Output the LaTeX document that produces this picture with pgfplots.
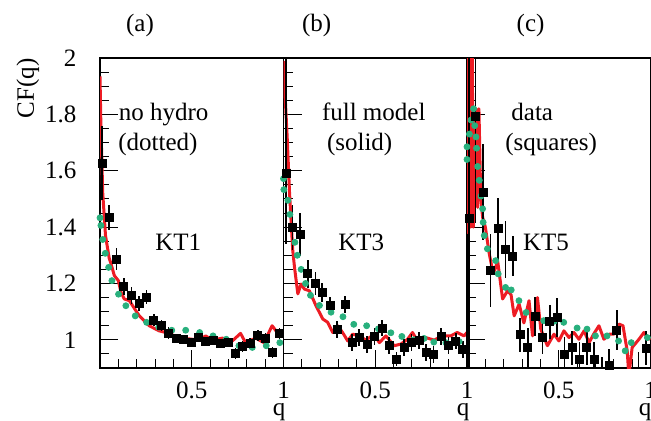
\documentclass[border=0pt]{standalone}
\usepackage{fontspec}
\setmainfont{Liberation Serif}
\usepackage{pgfplots}
\pgfplotsset{compat=1.18}
\definecolor{rootred}{RGB}{237,28,36}
\definecolor{rootgreen}{RGB}{40,176,125}
\newcommand{\lab}{\fontsize{12.5}{15}\selectfont}
\pgfplotsset{
  panel/.style={
    scale only axis, width=91.75pt, height=155pt,
    anchor=south west,
    xmin=0, xmax=1, ymin=0.9, ymax=2,
    axis line style={line width=0.6pt},
    tick style={black, line width=0.5pt},
    major tick length=9pt, minor tick length=4.5pt,
    tick pos=left, tick align=inside,
    xtick={0,0.5,1}, xticklabels={,0.5,1},
    minor xtick={0.1,0.2,0.3,0.4,0.6,0.7,0.8,0.9},
    ytick={1,1.2,1.4,1.6,1.8,2},
    minor ytick={0.95,1.05,1.1,1.15,1.25,1.3,1.35,1.45,1.5,1.55,1.65,1.7,1.75,1.85,1.9,1.95},
    /pgf/number format/assume math mode=true,
    xticklabel style={font=\lab, yshift=-3.5pt},
    yticklabel style={font=\lab, xshift=-8.3pt},
  },
  redline/.style={color=rootred, line width=1.5pt, line join=round, mark=none},
  greendots/.style={only marks, mark=*, mark size=1.5pt, color=rootgreen, mark options={draw=rootgreen, fill=rootgreen}},
  datasq/.style={only marks, mark=square*, mark size=2pt, color=black, mark options={fill=black},
    error bars/.cd, y dir=both, y explicit, error mark=none,
    error bar style={line width=0.8pt, black}},
}
\begin{document}
\begin{tikzpicture}
%================ panel (a)
\begin{axis}[panel, at={(50pt,26pt)}]
\addplot[redline] table {
0 1.935
0.005 1.755
0.015 1.52
0.03 1.37
0.05 1.29
0.06 1.27
0.078 1.228
0.1 1.21
0.114 1.17
0.132 1.145
0.16 1.139
0.214 1.085
0.268 1.05
0.322 1.032
0.377 1.023
0.413 1.012
0.449 1.006
0.504 1.002
0.54 1.0
0.576 1.014
0.612 0.999
0.667 1.006
0.721 0.996
0.766 1.023
0.793 0.99
0.848 1.006
0.893 0.99
0.938 1.05
0.966 1.026
1.0 1.026
};
\addplot[greendots] table {
0.0 1.433
0.005 1.406
0.015 1.356
0.029 1.307
0.047 1.257
0.065 1.21
0.101 1.162
0.141 1.121
0.192 1.085
0.254 1.062
0.32 1.045
0.391 1.034
0.467 1.034
0.543 1.026
0.616 1.014
0.688 1.002
0.757 0.979
0.83 0.973
0.906 0.979
0.98 0.99
};
\addplot[datasq] table[x index=0, y index=1, y error plus index=2, y error minus index=3] {
0.0125 1.627 0.13 0.13
0.05 1.433 0.045 0.045
0.09 1.287 0.04 0.04
0.13 1.19 0.03 0.03
0.172 1.158 0.03 0.03
0.212 1.129 0.025 0.025
0.254 1.151 0.025 0.025
0.293 1.07 0.02 0.02
0.335 1.05 0.02 0.02
0.374 1.024 0.02 0.02
0.415 1.005 0.015 0.015
0.454 1.0 0.015 0.015
0.496 0.99 0.015 0.015
0.535 1.008 0.015 0.015
0.576 0.993 0.015 0.015
0.616 0.999 0.015 0.015
0.658 0.988 0.015 0.015
0.698 0.99 0.015 0.015
0.738 0.951 0.02 0.02
0.777 0.976 0.02 0.02
0.819 0.988 0.02 0.02
0.86 1.016 0.02 0.02
0.902 1.004 0.02 0.02
0.94 0.955 0.02 0.02
0.979 1.022 0.02 0.02
};
\end{axis}
%================ panel (b)
\begin{axis}[panel, at={(141.75pt,26pt)}, yticklabels={}]
\addplot[redline] table {
0 1.99
0.01 1.85
0.02 1.72
0.033 1.52
0.05 1.32
0.06 1.257
0.078 1.163
0.096 1.198
0.114 1.18
0.141 1.174
0.177 1.121
0.214 1.074
0.241 1.062
0.268 1.026
0.295 1.05
0.322 1.026
0.35 0.996
0.377 1.02
0.413 1.014
0.449 0.999
0.495 1.02
0.522 0.99
0.558 1.014
0.603 0.979
0.64 0.985
0.676 1.002
0.703 1.026
0.73 0.996
0.775 1.008
0.821 0.999
0.866 1.014
0.911 1.014
0.947 1.026
0.984 1.014
1.0 1.026
};
\addplot[greendots] table {
0 1.572
0.002 1.533
0.024 1.495
0.035 1.445
0.062 1.346
0.075 1.3
0.096 1.25
0.12 1.2
0.147 1.158
0.196 1.122
0.259 1.098
0.324 1.082
0.383 1.055
0.453 1.05
0.517 1.039
0.585 1.025
0.645 1.012
0.71 1.0
0.766 1.005
0.819 0.992
0.885 0.99
0.957 0.994
};
\addplot[datasq] table[x index=0, y index=1, y error plus index=2, y error minus index=3] {
0.014 1.59 0.45 0.25
0.05 1.40 0.08 0.08
0.091 1.374 0.075 0.075
0.132 1.234 0.05 0.05
0.174 1.2 0.04 0.04
0.21 1.168 0.035 0.035
0.254 1.121 0.03 0.03
0.292 1.038 0.03 0.03
0.335 1.125 0.03 0.03
0.373 0.99 0.03 0.03
0.413 1.008 0.03 0.03
0.455 0.985 0.03 0.03
0.495 1.011 0.03 0.03
0.537 1.042 0.03 0.03
0.576 0.979 0.03 0.03
0.616 0.931 0.025 0.025
0.658 0.973 0.03 0.03
0.697 0.99 0.03 0.03
0.739 0.999 0.03 0.03
0.777 0.955 0.03 0.03
0.817 0.949 0.03 0.03
0.859 1.011 0.03 0.03
0.899 0.979 0.03 0.03
0.939 0.996 0.03 0.03
0.977 0.967 0.03 0.03
};
\end{axis}
%================ panel (c)
\begin{axis}[panel, at={(233.5pt,26pt)}, yticklabels={}]
\addplot[redline] table {
0.0 2.1
0.005 1.38
0.012 2.1
0.02 1.40
0.028 2.1
0.034 1.40
0.05 1.82
0.058 1.47
0.065 1.82
0.075 1.50
0.085 1.435
0.1 1.40
0.12 1.31
0.135 1.26
0.15 1.245
0.167 1.28
0.194 1.145
0.221 1.174
0.24 1.16
0.257 1.085
0.284 1.127
0.31 1.06
0.338 1.139
0.357 1.014
0.384 1.15
0.402 1.038
0.438 0.979
0.474 1.02
0.501 0.996
0.528 1.032
0.556 1.008
0.583 1.026
0.61 1.002
0.638 1.032
0.665 0.99
0.69 1.02
0.719 1.05
0.746 1.002
0.775 1.02
0.8 1.02
0.828 1.056
0.85 1.05
0.873 0.961
0.882 0.872
0.9 0.973
0.937 1.002
0.964 1.026
0.991 1.002
1.0 1.01
};
\addplot[greendots] table {
0.0 1.64
0.0 1.685
0.013 1.73
0.022 1.78
0.036 1.82
0.042 1.76
0.049 1.72
0.052 1.68
0.058 1.615
0.067 1.566
0.076 1.51
0.085 1.465
0.088 1.417
0.094 1.37
0.111 1.323
0.156 1.281
0.17 1.234
0.21 1.186
0.241 1.177
0.283 1.139
0.322 1.097
0.375 1.08
0.418 1.068
0.475 1.066
0.527 1.062
0.6 1.042
0.654 1.038
0.7 1.014
0.763 1.014
0.826 0.996
0.862 0.961
0.895 0.99
0.983 1.008
};
\addplot[datasq] table[x index=0, y index=1, y error plus index=2, y error minus index=3] {
0.011 1.43 0.6 0.55
0.047 1.794 0.35 0.38
0.088 1.524 0.17 0.17
0.129 1.246 0.13 0.13
0.17 1.394 0.11 0.11
0.21 1.32 0.1 0.1
0.25 1.297 0.07 0.07
0.289 1.018 0.06 0.06
0.331 0.973 0.07 0.07
0.372 1.082 0.07 0.07
0.412 1.008 0.06 0.06
0.451 1.064 0.06 0.06
0.49 1.079 0.07 0.07
0.532 0.949 0.06 0.06
0.572 0.972 0.06 0.06
0.612 0.931 0.06 0.06
0.653 0.972 0.06 0.06
0.692 0.931 0.06 0.06
0.735 0.88 0.06 0.06
0.775 0.909 0.06 0.06
0.816 1.035 0.07 0.07
0.935 0.897 0.06 0.06
0.976 0.971 0.06 0.06
};
\end{axis}
%================ texts
\begin{scope}[every node/.style={inner sep=0pt, font=\lab}]
\node[anchor=base] at (70pt,194.5pt) {(a)};
\node[anchor=base] at (158.3pt,194.5pt) {(b)};
\node[anchor=base] at (265.3pt,194.5pt) {(c)};
\node[rotate=90, anchor=base east] at (17pt,181pt) {CF(q)};
\node[anchor=base west] at (59.2pt,150pt) {no hydro};
\node[anchor=base west] at (59pt,135pt) {(dotted)};
\node[anchor=base west] at (160.8pt,150pt) {full model};
\node[anchor=base west] at (163.3pt,135pt) {(solid)};
\node[anchor=base west] at (255.5pt,150pt) {data};
\node[anchor=base west] at (252.5pt,135pt) {(squares)};
\node[anchor=base west] at (77.5pt,85pt) {KT1};
\node[anchor=base west] at (169pt,85pt) {KT3};
\node[anchor=base west] at (261.3pt,85pt) {KT5};
\node[anchor=base] at (139.5pt,2.5pt) {q};
\node[anchor=base] at (231.5pt,2.5pt) {q};
\node[anchor=base] at (322.5pt,2.5pt) {q};
\end{scope}
\pgfresetboundingbox
\useasboundingbox (0pt,0pt) rectangle (325.5pt,210pt);
\end{tikzpicture}
\end{document}
